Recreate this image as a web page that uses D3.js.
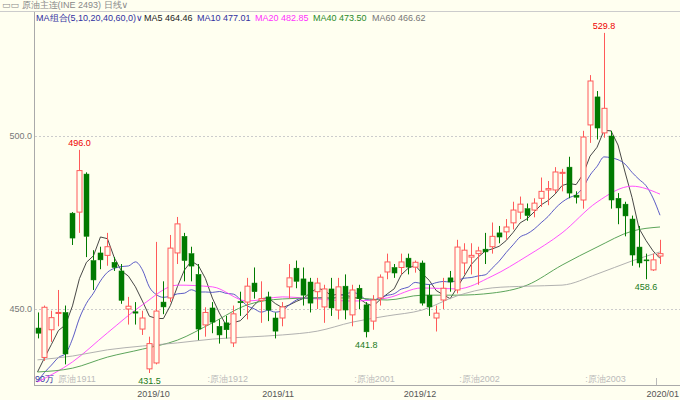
<!DOCTYPE html>
<html><head><meta charset="utf-8">
<script src="https://cdn.jsdelivr.net/npm/d3@7"></script>
<style>body{margin:0;background:#fffff0;}svg{display:block;font-family:"Liberation Sans","DejaVu Sans",sans-serif;}</style>
</head><body><div id="chart"></div>
<script>
// daily candles: open, close, high, low
const opens  = [444.5,436,444,449,449,477.7,478,489,464,466.2,465.5,463.5,461,450,449.2,444.2,432.7,434.4,452,453.2,466.2,471,466,460,445.4,450.3,445,446,440.2,452.2,452,457.5,452.5,453.5,447.4,447.4,456.4,461.8,458.7,457.8,455,450.6,455.8,449.7,456.6,448.3,456,451.2,446.5,453.2,460.7,462,462,464.7,462.1,463.3,454,447.4,452.6,459,455.5,463.3,465,466,467.3,468,472,472.3,474.9,478,479,478.6,482,484.4,484.4,489.2,491,482.9,481.5,503.2,511.3,500.9,500,482,480.3,476,467.9,464.2,461.3,465.3];
const closes = [443,450.5,447.5,449,437,470.5,490,471,458.4,464.2,468,462,452.5,450.8,448.8,447.4,440,449.4,450.6,467.6,474.6,464,462.4,444.2,449,446.2,442.5,444,448.6,451.8,456.6,455,453,449.7,443.6,450.6,459,458,454,451.7,457.5,455.8,450.3,456.4,449.7,455.5,453,443.4,452.6,459.2,463.6,460.4,463.6,462.1,463.5,451.7,450.6,448.8,456,457.8,467.9,467,465.5,466.8,466.5,471,470.8,473.7,478.6,480.3,477,480.6,484,484.8,489.6,489.5,483.5,482.3,499.7,515.9,502.3,508,481.5,479.2,476.9,465.6,463.3,464,464.2,466];
const highs  = [449,451,449.5,455.5,451,478,496,489.5,467,468,472,465,463,453.5,452,449.5,442,469.4,458,471.4,476.6,472,468,463,450.5,452,447,448,451,455,459,462,458,455,449,452,463,464,462,459,459,457,459,459,460,457,457,452,454,460,466,463,466,466,464,464,457,451,459,461,470,469,469,468,472,475,474,476,481,482.5,480.5,482,488,487,491,490.5,494,484,501.5,517.6,513,529.8,501.5,483.5,481,477,474,466,466,470];
const lows   = [441.5,435,440.5,445,434,468.5,472,465,455.5,461.5,462.5,461,451.5,445.5,445.5,442.5,431.5,434,448.5,452,463,458,458,441,442,443,440,441.5,439,448,447,453,446,446.5,441.5,445,453,456,451,449,450,446,448,447,447,445,450,441.8,444,451,458.6,459,460,460,460.5,451,448,443.5,450,455,454.5,460,460,457,463,466,469,470,473,476,475.5,476.5,479.5,480,483.5,484,482,480.5,479,498,499,499.5,479,474.5,471,462.5,462,458.6,461,463];
// closes before the visible window, only used for MA5/MA10 warm-up
const priorCloses = [425,426,427,426,428,430,428,429,429];
// slower averages read at sample candles
const maIdx = [0,5,10,15,20,25,30,35,40,45,50,55,60,65,70,75,80,85,89];
const ma20 = [428.9,434.7,443.1,451.2,456.9,456.4,452.3,453.5,452.9,452.3,453.2,456.1,455.8,459.5,465.3,472,480.9,485.5,483.2];
const ma40 = [431.8,432.9,436.1,438.4,441,446,451.2,452.9,453.2,453.2,452.6,454,454,454.6,456.9,462.7,467.9,472.5,473.7];
const ma60 = [435.3,436.4,438.2,439.3,440.2,441.3,441.9,442.5,443.6,446.2,448,449.7,453.8,456.1,456.6,456.9,460.1,463.9,466.5];
// labels
const yTicks = [450, 500];
const dateLabels = ["2019/10","2019/11","2019/12","2020/01"];
const dateIdx = [16.6, 34.4, 54.7, 89];
const contractLabels = ["原油1911",":原油1912",":原油2001",":原油2002",":原油2003"];
const contractIdx = [3, 24.3, 45.3, 60.3, 78.3];
const marks = [{i:6,v:496.0,hi:true},{i:16,v:431.5,hi:false},{i:47,v:441.8,hi:false},{i:81,v:529.8,hi:true},{i:87,v:458.6,hi:false}];

const W = 680, H = 400;
const svg = d3.select("#chart").append("svg").attr("width", W).attr("height", H);
svg.append("rect").attr("width", W).attr("height", H).attr("fill", "#fffff0");

const x = d3.scaleLinear().domain([0, 89]).range([37.5, 660]);
const y = d3.scaleLinear().domain([450, 500]).range([309, 136]);
const UP = "#ff5a5a", DN = "#007a00";

// header
svg.append("text").attr("x", 2).attr("y", 8).attr("font-size", 9).attr("fill", "#888")
    .text("▭▭ 原油主连(INE 2493)   日线∨");
svg.append("line").attr("x1", 0).attr("x2", W).attr("y1", 11.5).attr("y2", 11.5).attr("stroke", "#ccc");
const legend = [["MA组合(5,10,20,40,60,0)∨", "#3030a0"], ["MA5 464.46", "#222"], ["MA10 477.01", "#3030a0"],
    ["MA20 482.85", "#ff30ff"], ["MA40 473.50", "#2a8a2a"], ["MA60 466.62", "#777"]];
const legX = [36, 144, 197, 255, 313, 372];
legend.forEach((d, k) => svg.append("text").attr("x", legX[k]).attr("y", 21).attr("font-size", 9).attr("fill", d[1]).text(d[0]));

// axes
svg.append("line").attr("x1", 34.5).attr("x2", 34.5).attr("y1", 12).attr("y2", 385).attr("stroke", "#aaa");
svg.append("line").attr("x1", 34).attr("x2", W).attr("y1", 385.5).attr("y2", 385.5).attr("stroke", "#aaa");
yTicks.forEach(t => {
    svg.append("line").attr("x1", 35).attr("x2", W).attr("y1", y(t) + .5).attr("y2", y(t) + .5)
        .attr("stroke", "#ccc").attr("stroke-dasharray", "2,2");
    svg.append("text").attr("x", 32).attr("y", y(t) + 3).attr("text-anchor", "end")
        .attr("font-size", 9).attr("fill", "#777").text(t.toFixed(1));
});
dateLabels.forEach((d, k) => {
    const last = k === dateLabels.length - 1;
    svg.append("text").attr("x", last ? 679 : x(dateIdx[k])).attr("y", 397)
        .attr("text-anchor", last ? "end" : "middle").attr("font-size", 9).attr("fill", "#555").text(d);
});
svg.append("line").attr("x1", x(88.5)).attr("x2", x(88.5)).attr("y1", 378).attr("y2", 385).attr("stroke", "#bbb");
contractLabels.forEach((d, k) => svg.append("text").attr("x", x(contractIdx[k])).attr("y", 382)
    .attr("font-size", 9).attr("fill", "#bbb").text(d));
svg.append("text").attr("x", 35).attr("y", 382).attr("font-size", 9).attr("fill", "#3030a0").text("90万");

// moving averages
const allCloses = priorCloses.concat(closes);
const movAvg = n => closes.map((c, i) => {
    const j = i + priorCloses.length;
    return d3.mean(allCloses.slice(j - n + 1, j + 1));
});
const line = d3.line().x(d => x(d[0])).y(d => y(d[1]));
const smooth = d3.line().x(d => x(d[0])).y(d => y(d[1])).curve(d3.curveMonotoneX);
const maLines = [
    [movAvg(5).map((v, i) => [i, v]), "#333", line],
    [movAvg(10).map((v, i) => [i, v]), "#4a4ac0", smooth],
    [ma20.map((v, k) => [maIdx[k], v]), "#ff40ff", smooth],
    [ma40.map((v, k) => [maIdx[k], v]), "#4a9a4a", smooth],
    [ma60.map((v, k) => [maIdx[k], v]), "#a8a8a8", smooth]
];
maLines.forEach(m => svg.append("path").attr("d", m[2](m[0])).attr("fill", "none")
    .attr("stroke", m[1]).attr("stroke-width", 0.9));

// candles
const bw = 5;
const candles = svg.append("g");
opens.forEach((o, i) => {
    const c = closes[i], up = c >= o, col = up ? UP : DN;
    const cx = Math.round(x(i)) + 0.5;
    const top = y(Math.max(o, c)), bot = y(Math.min(o, c));
    candles.append("line").attr("x1", cx).attr("x2", cx).attr("y1", y(highs[i])).attr("y2", top).attr("stroke", col);
    candles.append("line").attr("x1", cx).attr("x2", cx).attr("y1", bot).attr("y2", y(lows[i])).attr("stroke", col);
    candles.append("rect").attr("x", cx - bw / 2).attr("y", top).attr("width", bw)
        .attr("height", Math.max(1, bot - top))
        .attr("fill", up ? "#fffff0" : DN).attr("stroke", col).attr("stroke-width", up ? 1 : 0.5);
});

// high / low markers
marks.forEach(m => svg.append("text").attr("x", x(m.i)).attr("y", m.hi ? y(m.v) - 4 : y(m.v) + 11)
    .attr("text-anchor", "middle").attr("font-size", 9).attr("fill", m.hi ? "#e00" : "#1a7a1a").text(m.v.toFixed(1)));
</script>
</body></html>
